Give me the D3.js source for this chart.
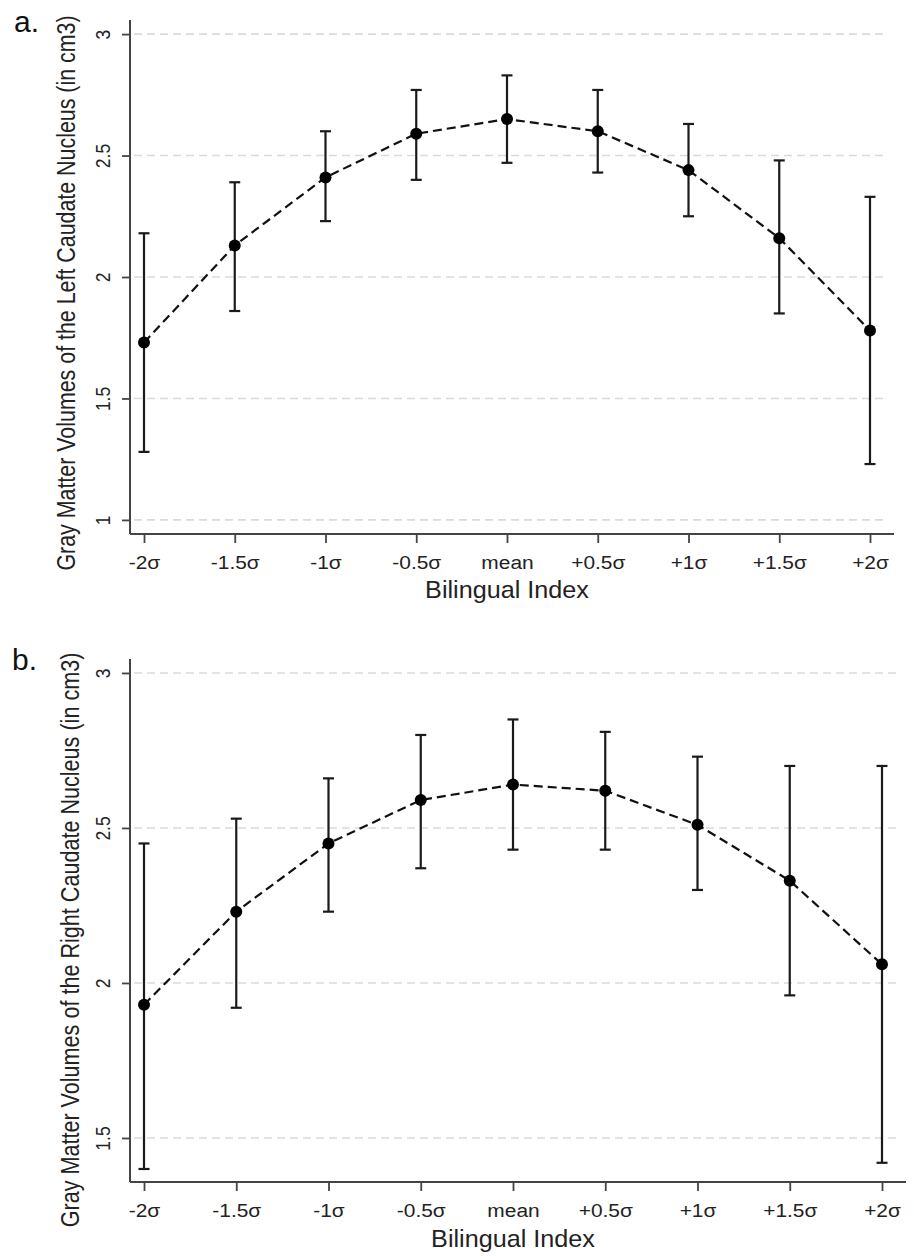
<!DOCTYPE html>
<html>
<head>
<meta charset="utf-8">
<script src="https://cdn.jsdelivr.net/npm/d3@7"></script>
<style>
  body { margin: 0; background: #fff; }
  svg { display: block; font-family: "Liberation Sans", Arial, sans-serif; }
</style>
</head>
<body>
<svg id="chart" width="914" height="1256"></svg>
<script>
// categories on the x axis
var categories = ["-2σ", "-1.5σ", "-1σ", "-0.5σ", "mean", "+0.5σ", "+1σ", "+1.5σ", "+2σ"];

// panel a: left caudate
var leftMean  = [1.73, 2.13, 2.41, 2.59, 2.65, 2.60, 2.44, 2.16, 1.78];
var leftUpper = [2.18, 2.39, 2.60, 2.77, 2.83, 2.77, 2.63, 2.48, 2.33];
var leftLower = [1.28, 1.86, 2.23, 2.40, 2.47, 2.43, 2.25, 1.85, 1.23];
var leftTicks = [1, 1.5, 2, 2.5, 3];

// panel b: right caudate
var rightMean  = [1.93, 2.23, 2.45, 2.59, 2.64, 2.62, 2.51, 2.33, 2.06];
var rightUpper = [2.45, 2.53, 2.66, 2.80, 2.85, 2.81, 2.73, 2.70, 2.70];
var rightLower = [1.40, 1.92, 2.23, 2.37, 2.43, 2.43, 2.30, 1.96, 1.42];
var rightTicks = [1.5, 2, 2.5, 3];

var svg = d3.select("#chart");

var drawPanel = function (opt) {
  var g = svg.append("g");

  var x = d3.scalePoint().domain(categories).range([opt.x0, opt.x1]);
  var y = d3.scaleLinear().domain(opt.yDomain).range([opt.bottom, opt.top]);

  var rows = categories.map(function (c, i) {
    return {cat: c, m: opt.mean[i], hi: opt.upper[i], lo: opt.lower[i]};
  });

  // dashed gray gridlines
  g.selectAll(".grid")
    .data(opt.ticks)
    .enter().append("line")
      .attr("x1", opt.left + 4)
      .attr("x2", opt.gridRight)
      .attr("y1", function (d) { return y(d); })
      .attr("y2", function (d) { return y(d); })
      .attr("stroke", "#dadada")
      .attr("stroke-width", 1.6)
      .attr("stroke-dasharray", "8,5");

  // y axis
  var yAxis = g.append("g")
      .attr("transform", "translate(" + opt.left + ",0)")
      .call(d3.axisLeft(y).tickValues(opt.ticks).tickSize(8).tickPadding(6)
        .tickFormat(function (d) { return String(d); }));
  yAxis.select(".domain").attr("d", "M0," + opt.bottom + "V" + opt.top)
      .attr("stroke", "#444").attr("stroke-width", 2);
  yAxis.selectAll(".tick line").attr("stroke", "#444").attr("stroke-width", 1.8);
  yAxis.selectAll(".tick text")
      .attr("x", null).attr("dy", null)
      .attr("text-anchor", "middle")
      .attr("font-size", 17.5)
      .attr("fill", "#222")
      .attr("transform", "translate(-20,0) rotate(-90) scale(1,1.2)");

  // x axis
  var xAxis = g.append("g")
      .attr("transform", "translate(0," + opt.bottom + ")")
      .call(d3.axisBottom(x).tickSize(9).tickPadding(8));
  xAxis.select(".domain").attr("d", "M" + opt.left + ",0H" + opt.axisRight)
      .attr("stroke", "#444").attr("stroke-width", 2);
  xAxis.selectAll(".tick line").attr("stroke", "#444").attr("stroke-width", 1.8);
  xAxis.selectAll(".tick text")
      .attr("font-size", 19)
      .attr("fill", "#222")
      .attr("dy", "0.95em")
      .attr("transform", "scale(1.1,1)");

  // axis titles
  g.append("text")
      .attr("transform", "translate(" + ((opt.x0 + opt.x1) / 2) + "," + opt.xTitleY + ") scale(1.05,1)")
      .attr("text-anchor", "middle")
      .attr("font-size", 24)
      .attr("fill", "#222")
      .text("Bilingual Index");

  g.append("text")
      .attr("transform", "translate(" + opt.yTitleX + "," + opt.yTitleMid + ") rotate(-90) scale(1,1.2)")
      .attr("text-anchor", "middle")
      .attr("font-size", opt.yTitleSize)
      .attr("fill", "#222")
      .text(opt.yTitle);

  // panel letter
  g.append("text")
      .attr("x", opt.letterX)
      .attr("y", opt.letterY)
      .attr("font-size", 30)
      .attr("fill", "#111")
      .text(opt.letter);

  // error bars
  var bars = g.selectAll(".err").data(rows).enter().append("g")
      .attr("stroke", "#1a1a1a").attr("stroke-width", 2.2);
  bars.append("line")
      .attr("x1", function (d) { return x(d.cat); })
      .attr("x2", function (d) { return x(d.cat); })
      .attr("y1", function (d) { return y(d.lo); })
      .attr("y2", function (d) { return y(d.hi); });
  bars.append("line")
      .attr("x1", function (d) { return x(d.cat) - 5.5; })
      .attr("x2", function (d) { return x(d.cat) + 5.5; })
      .attr("y1", function (d) { return y(d.hi); })
      .attr("y2", function (d) { return y(d.hi); });
  bars.append("line")
      .attr("x1", function (d) { return x(d.cat) - 5.5; })
      .attr("x2", function (d) { return x(d.cat) + 5.5; })
      .attr("y1", function (d) { return y(d.lo); })
      .attr("y2", function (d) { return y(d.lo); });

  // dashed connecting line
  var line = d3.line()
      .x(function (d) { return x(d.cat); })
      .y(function (d) { return y(d.m); });
  g.append("path")
      .datum(rows)
      .attr("d", line)
      .attr("fill", "none")
      .attr("stroke", "#111")
      .attr("stroke-width", 2.2)
      .attr("stroke-dasharray", "9,5");

  // points
  g.selectAll(".pt").data(rows).enter().append("circle")
      .attr("cx", function (d) { return x(d.cat); })
      .attr("cy", function (d) { return y(d.m); })
      .attr("r", 6)
      .attr("fill", "#000");
};

drawPanel({
  letter: "a.", letterX: 14, letterY: 32,
  mean: leftMean, upper: leftUpper, lower: leftLower, ticks: leftTicks,
  yDomain: [0.942, 3.058], top: 20, bottom: 534,
  left: 130, x0: 144, x1: 870, gridRight: 884, axisRight: 894,
  xTitleY: 598, yTitleX: 75, yTitleMid: 293, yTitleSize: 21.4,
  yTitle: "Gray Matter Volumes of the Left Caudate Nucleus (in cm3)"
});

drawPanel({
  letter: "b.", letterX: 12, letterY: 670,
  mean: rightMean, upper: rightUpper, lower: rightLower, ticks: rightTicks,
  yDomain: [1.358, 3.045], top: 659, bottom: 1182,
  left: 130, x0: 144, x1: 882, gridRight: 897, axisRight: 906,
  xTitleY: 1247, yTitleX: 79, yTitleMid: 940, yTitleSize: 21.6,
  yTitle: "Gray Matter Volumes of the Right Caudate Nucleus (in cm3)"
});
</script>
</body>
</html>
